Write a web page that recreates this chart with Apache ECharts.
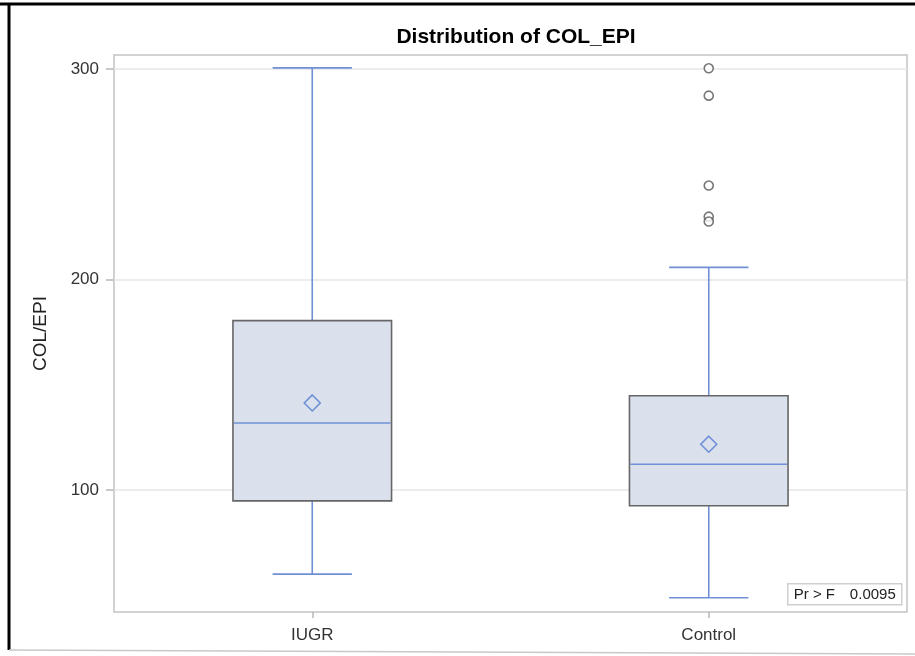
<!DOCTYPE html>
<html>
<head>
<meta charset="utf-8">
<script src="https://cdn.jsdelivr.net/npm/echarts@6/dist/echarts.min.js"></script>
<style>
  html, body { margin: 0; padding: 0; background: #ffffff; }
  #chart { width: 915px; height: 656px; }
</style>
</head>
<body>
<div id="chart"></div>
<script>
// Five-number summaries and means of COL/EPI per group
const groups = ['IUGR', 'Control'];
const whiskerLow = [60.0, 48.8];
const q1 = [94.8, 92.5];
const median = [131.8, 112.2];
const q3 = [180.4, 144.7];
const whiskerHigh = [300.5, 205.7];
const means = [141.3, 121.7];

// Outlying observations (group index, value)
const outlierGroup = [1, 1, 1, 1, 1];
const outlierValues = [300.3, 287.3, 244.6, 229.8, 227.5];

// Y axis tick values
const yTicks = [100, 200, 300];

// Test footnote
const testLabel = 'Pr > F';
const testValue = '0.0095';

const boxData = groups.map((g, i) => [i, whiskerLow[i], q1[i], median[i], q3[i], whiskerHigh[i], means[i]]);
const outlierData = outlierGroup.map((g, i) => [g, outlierValues[i]]);

const BLUE = '#6f8fd6';
const FONT = '"Liberation Sans", Arial, sans-serif';

function renderBox(params, api) {
  const c = api.value(0);
  const band = api.size([1, 0])[0];
  const bw = band * 0.4;
  const cx = api.coord([c, api.value(3)])[0];
  const y = v => api.coord([c, v])[1];
  const yLo = y(api.value(1));
  const yQ1 = y(api.value(2));
  const yMed = y(api.value(3));
  const yQ3 = y(api.value(4));
  const yHi = y(api.value(5));
  const yMean = y(api.value(6));
  const capHalf = bw / 4;
  const d = 8;
  const lineStyle = { stroke: BLUE, lineWidth: 1.6 };
  return {
    type: 'group',
    children: [
      { type: 'line', shape: { x1: cx, y1: yQ3, x2: cx, y2: yHi }, style: lineStyle },
      { type: 'line', shape: { x1: cx - capHalf, y1: yHi, x2: cx + capHalf, y2: yHi }, style: lineStyle },
      { type: 'line', shape: { x1: cx, y1: yQ1, x2: cx, y2: yLo }, style: lineStyle },
      { type: 'line', shape: { x1: cx - capHalf, y1: yLo, x2: cx + capHalf, y2: yLo }, style: lineStyle },
      { type: 'rect', shape: { x: cx - bw / 2, y: yQ3, width: bw, height: yQ1 - yQ3 },
        style: { fill: '#dae1ed', stroke: '#666666', lineWidth: 1.6 } },
      { type: 'line', shape: { x1: cx - bw / 2 + 1, y1: yMed, x2: cx + bw / 2 - 1, y2: yMed }, style: lineStyle },
      { type: 'polygon', shape: { points: [[cx, yMean - d], [cx + d, yMean], [cx, yMean + d], [cx - d, yMean]] },
        style: { fill: 'none', stroke: BLUE, lineWidth: 1.6 } }
    ]
  };
}

const chart = echarts.init(document.getElementById('chart'), null, { renderer: 'canvas' });

chart.setOption({
  animation: false,
  backgroundColor: '#ffffff',
  title: {
    text: 'Distribution of COL_EPI',
    left: 511, top: 22, textAlign: 'center',
    textStyle: { fontFamily: FONT, fontSize: 21, fontWeight: 'bold', color: '#000000' }
  },
  grid: {
    left: 114, right: 8, top: 55, bottom: 44,
    show: true, borderColor: '#c4c4c4', borderWidth: 1.5, backgroundColor: 'transparent'
  },
  xAxis: {
    type: 'category',
    data: groups,
    axisLine: { show: false },
    axisTick: { show: true, alignWithLabel: true, length: 6, lineStyle: { color: '#b8b8b8', width: 1.5 } },
    axisLabel: { fontFamily: FONT, fontSize: 17, color: '#333333', margin: 15 },
    splitLine: { show: false }
  },
  yAxis: {
    type: 'value',
    min: 42,
    max: 306.6,
    name: 'COL/EPI',
    nameLocation: 'middle',
    nameGap: 64,
    nameTextStyle: { fontFamily: FONT, fontSize: 19, color: '#222222' },
    axisLine: { show: false },
    axisTick: { show: true, customValues: yTicks, length: 8, lineStyle: { color: '#b8b8b8', width: 1.5 } },
    axisLabel: { customValues: yTicks, fontFamily: FONT, fontSize: 17, color: '#333333', margin: 15 },
    splitLine: { show: false }
  },
  series: [
    {
      type: 'line',
      data: [],
      silent: true,
      markLine: {
        silent: true,
        z: 1,
        symbol: 'none',
        label: { show: false },
        lineStyle: { color: '#e6e6e6', type: 'solid', width: 1.5 },
        data: yTicks.map(v => ({ yAxis: v }))
      }
    },
    {
      type: 'custom',
      z: 3,
      renderItem: renderBox,
      encode: { x: 0, y: [1, 2, 3, 4, 5, 6] },
      data: boxData
    },
    {
      type: 'scatter',
      z: 4,
      symbol: 'circle',
      symbolSize: 9,
      itemStyle: { color: '#ffffff', borderColor: '#555555', borderWidth: 1.6 },
      data: outlierData
    }
  ],
  graphic: [
    // outer frame
    { type: 'line', shape: { x1: 0, y1: 4, x2: 915, y2: 4 }, style: { stroke: '#000000', lineWidth: 3 } },
    { type: 'line', shape: { x1: 9, y1: 3, x2: 9, y2: 650 }, style: { stroke: '#000000', lineWidth: 3 } },
    { type: 'line', shape: { x1: 9, y1: 650, x2: 915, y2: 654 }, style: { stroke: '#c8c8c8', lineWidth: 1.5 } },
    // test statistic inset
    {
      type: 'group',
      left: 787, top: 583,
      children: [
        { type: 'rect', shape: { x: 0, y: 0, width: 114, height: 21 },
          style: { fill: '#ffffff', stroke: '#d0d0d0', lineWidth: 1.5 } },
        { type: 'text', x: 6, y: 11,
          style: { text: testLabel, fontFamily: FONT, fontSize: 15, fill: '#222222', verticalAlign: 'middle', align: 'left' } },
        { type: 'text', x: 108, y: 11,
          style: { text: testValue, fontFamily: FONT, fontSize: 15, fill: '#222222', verticalAlign: 'middle', align: 'right' } }
      ]
    }
  ]
});
</script>
</body>
</html>
